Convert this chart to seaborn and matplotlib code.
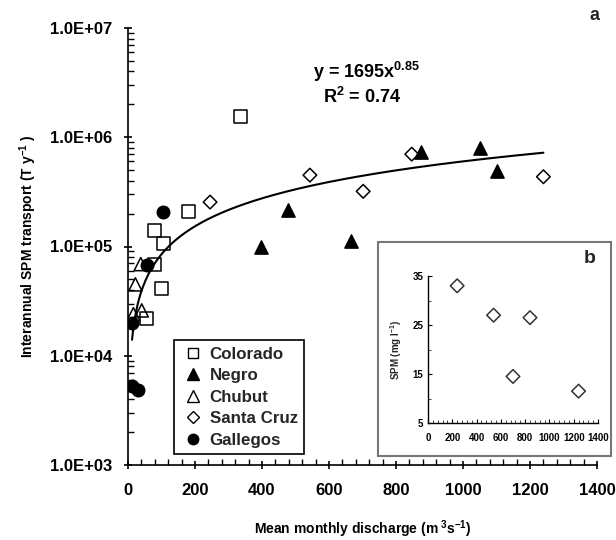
import numpy as np
import pandas as pd
import matplotlib
matplotlib.use("Agg")
import matplotlib.pyplot as plt
import seaborn as sns
from matplotlib.patches import Rectangle
from matplotlib.ticker import FixedLocator, MultipleLocator, FuncFormatter, LogLocator, NullFormatter

# ---------------- data ----------------
colorado_x = [56, 80, 80, 100, 105, 180, 337]
colorado_y = [2.2e4, 6.8e4, 1.4e5, 4.1e4, 1.07e5, 2.1e5, 1.54e6]

negro_x = [397, 479, 667, 874, 1051, 1100]
negro_y = [1.0e5, 2.17e5, 1.13e5, 7.3e5, 7.9e5, 4.9e5]

chubut_x = [16, 22, 38, 41]
chubut_y = [2.4e4, 4.5e4, 6.9e4, 2.6e4]

santacruz_x = [245, 543, 702, 847, 1240]
santacruz_y = [2.55e5, 4.5e5, 3.2e5, 7.0e5, 4.35e5]

gallegos_x = [11, 56, 105, 11, 31]
gallegos_y = [2.0e4, 6.8e4, 2.05e5, 5.3e3, 4.9e3]

fit_coef = 1695
fit_exp = 0.85
fit_range = [12, 1240]

inset_x = [240, 540, 700, 840, 1240]
inset_spm = [33, 27, 14.5, 26.5, 11.5]

x_ticks = [0, 200, 400, 600, 800, 1000, 1200, 1400]
y_ticks = [1e3, 1e4, 1e5, 1e6, 1e7]
inset_x_ticks = [0, 200, 400, 600, 800, 1000, 1200, 1400]
inset_y_ticks = [5, 15, 25, 35]

# ---------------- style ----------------
sns.set_theme(style="ticks")
plt.rcParams["font.family"] = ["Liberation Sans", "DejaVu Sans"]
plt.rcParams["font.weight"] = "bold"
plt.rcParams["mathtext.fontset"] = "custom"
plt.rcParams["mathtext.rm"] = "Liberation Sans:bold"
plt.rcParams["mathtext.it"] = "Liberation Sans:bold"
plt.rcParams["mathtext.bf"] = "Liberation Sans:bold"
plt.rcParams["mathtext.default"] = "bf"

W, H = 616, 540
fig = plt.figure(figsize=(W / 100, H / 100), dpi=100)
fig.patch.set_facecolor("white")

def fx(px):
    return px / W

def fy(py):
    return 1 - py / H

ax = fig.add_axes([fx(128), fy(465), fx(597) - fx(128), fy(28) - fy(465)])
ax.set_facecolor("white")

series = [
    ("Colorado", colorado_x, colorado_y, "s", "none", 90, 7),
    ("Negro", negro_x, negro_y, "^", "black", 90, 8),
    ("Chubut", chubut_x, chubut_y, "^", "none", 90, 8),
    ("Santa Cruz", santacruz_x, santacruz_y, "D", "none", 48, 6),
    ("Gallegos", gallegos_x, gallegos_y, "o", "black", 80, 7.5),
]

for name, xs, ys, mk, fc, s, _ in series:
    df = pd.DataFrame({"x": xs, "y": ys})
    sns.scatterplot(data=df, x="x", y="y", ax=ax, marker=mk, s=s,
                    facecolor=fc, edgecolor="black", linewidth=1.1,
                    legend=False, zorder=3)

xf = np.linspace(fit_range[0], fit_range[1], 300)
fit_df = pd.DataFrame({"x": xf, "y": fit_coef * xf ** fit_exp})
sns.lineplot(data=fit_df, x="x", y="y", ax=ax, color="black", linewidth=1.5, zorder=2)

ax.set_yscale("log")
ax.set_xlim(0, 1400)
ax.set_ylim(1e3, 1e7)
ax.xaxis.set_major_locator(FixedLocator(x_ticks))
ax.xaxis.set_minor_locator(MultipleLocator(40))
ax.yaxis.set_major_locator(FixedLocator(y_ticks))
ax.yaxis.set_minor_locator(LogLocator(base=10, subs=np.arange(2, 10)))
ax.yaxis.set_minor_formatter(NullFormatter())
ax.yaxis.set_major_formatter(FuncFormatter(lambda v, p: "1.0E+%02d" % int(round(np.log10(v)))))
for sp in ["top", "right"]:
    ax.spines[sp].set_visible(False)
for sp in ["left", "bottom"]:
    ax.spines[sp].set_color("black")
    ax.spines[sp].set_linewidth(1.2)
ax.tick_params(axis="both", which="major", length=6, width=1.2, color="black",
               labelsize=12, labelcolor="black", direction="inout")
ax.tick_params(axis="both", which="minor", length=4, width=1.0, color="black", direction="in")
ax.tick_params(axis="x", which="major", pad=10)
ax.tick_params(axis="y", which="major", pad=8)
for lab in ax.get_xticklabels() + ax.get_yticklabels():
    lab.set_fontweight("bold")
ax.grid(False)
ax.set_xlabel("Mean monthly discharge (m$^{\\ 3}$s$^{-1}$)", fontsize=10, fontweight="bold",
              color="black", labelpad=15)
ax.set_ylabel("Interannual SPM transport (T y$^{-1}$ )", fontsize=10, fontweight="bold",
              color="black", labelpad=8)

fig.text(fx(313), fy(72), "y = 1695x$^{0.85}$", fontsize=13, fontweight="bold",
         ha="left", va="center", color="black")
fig.text(fx(323), fy(97), "R$^{2}$ = 0.74", fontsize=13, fontweight="bold",
         ha="left", va="center", color="black")
fig.text(fx(595), fy(15), "a", fontsize=13, fontweight="bold", ha="center", va="center")

# legend
handles = []
for name, xs, ys, mk, fc, s, ms in series:
    h, = ax.plot([], [], linestyle="none", marker=mk, markersize=ms,
                 markerfacecolor=fc, markeredgecolor="black", markeredgewidth=1.0,
                 label=name)
    handles.append(h)
leg = ax.legend(handles=handles, loc="upper left",
                bbox_to_anchor=(fx(174), fy(340)), bbox_transform=fig.transFigure,
                frameon=True, fancybox=False, shadow=False, framealpha=1,
                edgecolor="black", labelspacing=0.38,
                handlelength=1.5, handletextpad=0.2, borderpad=0.4,
                borderaxespad=0, prop={"weight": "bold", "size": 12.2})
leg.get_frame().set_linewidth(1.2)

# inset box
rect = Rectangle((fx(378), fy(456)), fx(611) - fx(378), fy(242) - fy(456),
                 transform=fig.transFigure, facecolor="white", edgecolor="#777777",
                 linewidth=1.5, zorder=5)
fig.add_artist(rect)

axin = fig.add_axes([fx(428), fy(423), fx(598) - fx(428), fy(276) - fy(423)])
axin.set_zorder(6)
axin.set_facecolor("none")
din = pd.DataFrame({"x": inset_x, "y": inset_spm})
sns.scatterplot(data=din, x="x", y="y", ax=axin, marker="D", s=48,
                facecolor="none", edgecolor="#333333", linewidth=1.1, legend=False)
axin.set_xlim(0, 1400)
axin.set_ylim(5, 35)
axin.xaxis.set_major_locator(FixedLocator(inset_x_ticks))
axin.xaxis.set_minor_locator(MultipleLocator(40))
axin.yaxis.set_major_locator(FixedLocator(inset_y_ticks))
axin.yaxis.set_minor_locator(MultipleLocator(5))
for sp in ["top", "right"]:
    axin.spines[sp].set_visible(False)
for sp in ["left", "bottom"]:
    axin.spines[sp].set_color("black")
    axin.spines[sp].set_linewidth(1.0)
axin.tick_params(axis="both", which="major", length=3, width=0.8, labelsize=7,
                 direction="in", color="black", labelcolor="black")
axin.tick_params(axis="both", which="minor", length=2, width=0.6, direction="in")
axin.tick_params(axis="x", pad=7)
for lab in axin.get_xticklabels() + axin.get_yticklabels():
    lab.set_fontweight("bold")
axin.set_xlabel("")
axin.set_ylabel("SPM (mg l$^{-1}$)", fontsize=7, fontweight="bold", labelpad=6)
axin.grid(False)
fig.text(fx(590), fy(258), "b", fontsize=14, fontweight="bold", ha="center", va="center",
         zorder=7)

fig.savefig("out.png", dpi=100, facecolor="white")
